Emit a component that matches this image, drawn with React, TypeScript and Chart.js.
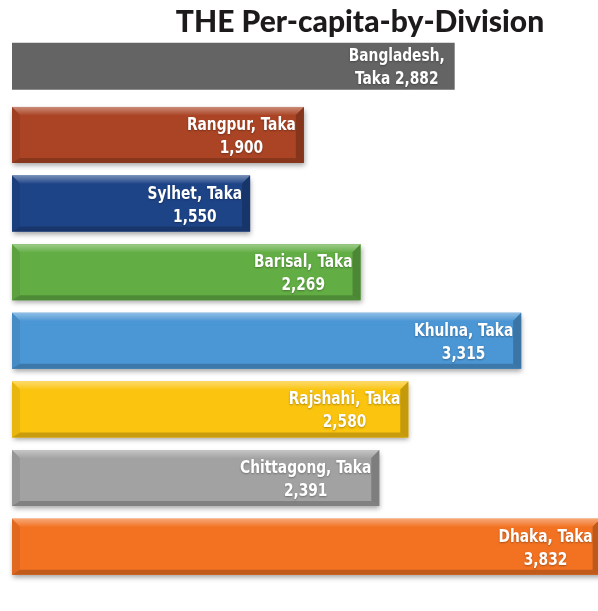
import React, { useEffect, useRef } from "react";
import { Chart, registerables } from "chart.js";

Chart.register(...registerables);

const titleText = "THE Per-capita-by-Division";
const categories = ["Bangladesh", "Rangpur", "Sylhet", "Barisal", "Khulna", "Rajshahi", "Chittagong", "Dhaka"];
const values = [2882, 1900, 1550, 2269, 3315, 2580, 2391, 3832];
const colors = ["#636463", "#AA4424", "#1E4488", "#62AE44", "#4B96D5", "#FBC40F", "#A2A2A2", "#F27222"];
const xMin = 0;
const xMax = 3815;

const fmt = (v: number) => v.toLocaleString("en-US");
const labelLines = categories.map((c, i) =>
  i === 0 ? [`${c},`, `Taka ${fmt(values[i])}`] : [`${c}, Taka`, fmt(values[i])]
);

const bevelPlugin = {
  id: "bevel",
  beforeDatasetsDraw(chart: any) {
    const ctx = chart.ctx;
    const meta = chart.getDatasetMeta(1);
    meta.data.forEach((el: any, i: number) => {
      if (i === 0) return;
      const { x, y, base, height } = el.getProps(["x", "y", "base", "height"], true);
      ctx.save();
      ctx.shadowColor = "rgba(0,0,0,0.35)";
      ctx.shadowBlur = 5;
      ctx.shadowOffsetY = 3;
      ctx.shadowOffsetX = 1;
      ctx.fillStyle = colors[i];
      ctx.fillRect(base, y - height / 2, x - base, height);
      ctx.restore();
    });
  },
  afterDatasetsDraw(chart: any) {
    const ctx = chart.ctx;
    const meta = chart.getDatasetMeta(1);
    meta.data.forEach((el: any, i: number) => {
      if (i === 0) return;
      const { x, y, base, height } = el.getProps(["x", "y", "base", "height"], true);
      const l = base, r = x, t = y - height / 2, b = y + height / 2;
      const bw = 8, bb = 5;
      ctx.save();
      ctx.beginPath();
      ctx.moveTo(l, t); ctx.lineTo(r, t); ctx.lineTo(r - bw, t + bw); ctx.lineTo(l + bw, t + bw); ctx.closePath();
      const gt = ctx.createLinearGradient(0, t, 0, t + bw);
      gt.addColorStop(0, "rgba(255,255,255,0.38)");
      gt.addColorStop(1, "rgba(255,255,255,0.03)");
      ctx.fillStyle = gt; ctx.fill();
      ctx.beginPath();
      ctx.moveTo(l, t); ctx.lineTo(l + bw, t + bw); ctx.lineTo(l + bw, b - bb); ctx.lineTo(l, b); ctx.closePath();
      ctx.fillStyle = "rgba(0,0,0,0.07)"; ctx.fill();
      ctx.beginPath();
      ctx.moveTo(l, b); ctx.lineTo(l + bw, b - bb); ctx.lineTo(r - bw, b - bb); ctx.lineTo(r, b); ctx.closePath();
      ctx.fillStyle = "rgba(0,0,0,0.2)"; ctx.fill();
      ctx.beginPath();
      ctx.moveTo(r, t); ctx.lineTo(r, b); ctx.lineTo(r - bw, b - bb); ctx.lineTo(r - bw, t + bw); ctx.closePath();
      ctx.fillStyle = "rgba(0,0,0,0.22)"; ctx.fill();
      ctx.restore();
    });
    [0, 1].forEach((di) => {
      const m = chart.getDatasetMeta(di);
      m.data.forEach((el: any, i: number) => {
        const raw = chart.data.datasets[di].data[i];
        if (raw == null) return;
        const { x, y } = el.getProps(["x", "y"], true);
        ctx.save();
        ctx.font = "bold 17px 'DejaVu Sans Condensed', 'DejaVu Sans', sans-serif";
        const sx = 0.9;
        const lines = labelLines[i];
        const w = Math.max(...lines.map((s) => ctx.measureText(s).width)) * sx;
        const cx = x - (i === 0 ? 10 : 8) - w / 2;
        ctx.translate(cx, y);
        ctx.scale(sx, 1);
        ctx.fillStyle = "#ffffff";
        ctx.textAlign = "center";
        ctx.textBaseline = "alphabetic";
        ctx.shadowColor = "rgba(0,0,0,0.3)";
        ctx.shadowBlur = 2;
        ctx.shadowOffsetY = 1;
        ctx.fillText(lines[0], 0, -5);
        ctx.fillText(lines[1], 0, 18);
        ctx.restore();
      });
    });
  },
  afterDraw(chart: any) {
    const ctx = chart.ctx;
    ctx.save();
    ctx.font = "900 30px Lato, 'Open Sans', sans-serif";
    ctx.fillStyle = "#1c1a1b";
    ctx.textAlign = "center";
    ctx.textBaseline = "alphabetic";
    ctx.fillText(titleText, 360, 32);
    ctx.restore();
  },
};

export default function App() {
  const ref = useRef<HTMLCanvasElement>(null);
  useEffect(() => {
    if (!ref.current) return;
    const chart = new Chart(ref.current, {
      type: "bar",
      data: {
        labels: categories,
        datasets: [
          {
            data: values.map((v, i) => (i === 0 ? v : null)),
            backgroundColor: colors,
            barPercentage: 0.685,
            categoryPercentage: 1,
            grouped: false,
          },
          {
            data: values.map((v, i) => (i === 0 ? null : v)),
            backgroundColor: colors,
            barPercentage: 0.816,
            categoryPercentage: 1,
            grouped: false,
          },
        ],
      },
      options: {
        indexAxis: "y",
        animation: false,
        responsive: false,
        maintainAspectRatio: false,
        layout: { padding: { left: 12, right: 0, top: 32, bottom: 30 } },
        plugins: { legend: { display: false }, tooltip: { enabled: false }, title: { display: false } },
        scales: {
          x: { display: false, min: xMin, max: xMax },
          y: { display: false },
        },
      },
      plugins: [bevelPlugin],
    });
    return () => chart.destroy();
  }, []);
  return (
    <div style={{ position: "fixed", left: 0, top: 0, width: 598, height: 611, background: "#fff" }}>
      <canvas ref={ref} width={598} height={611} style={{ width: 598, height: 611, display: "block" }} />
    </div>
  );
}
